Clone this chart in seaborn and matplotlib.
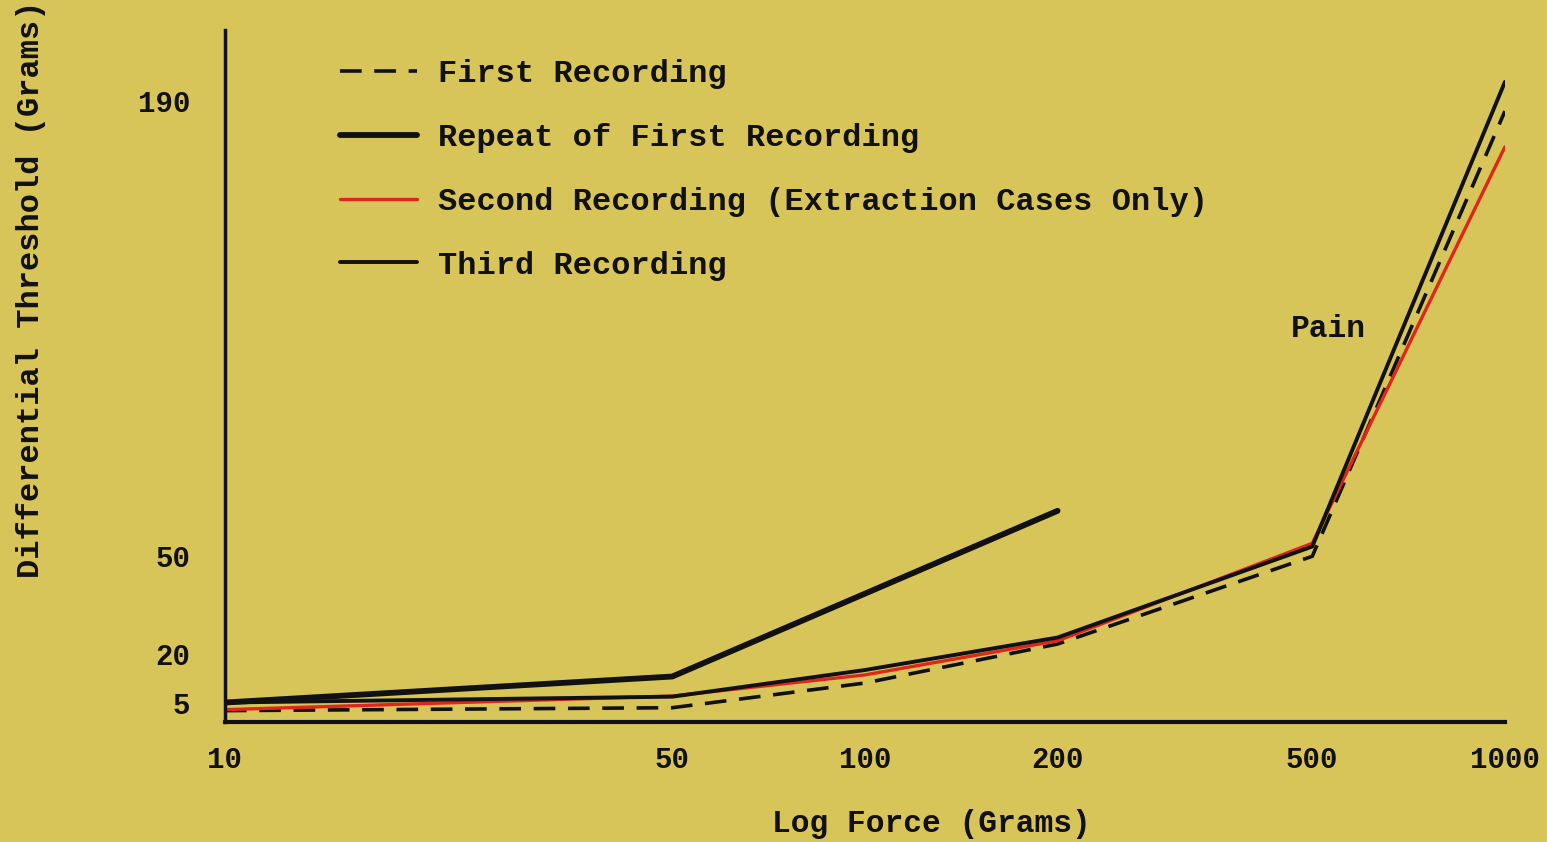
import pandas as pd
import matplotlib
matplotlib.use("Agg")
import matplotlib.pyplot as plt
import seaborn as sns

# values
force = [10, 50, 100, 200, 500, 1000]
first_rec = [2.5, 3.4, 11, 23, 50, 187]
second_rec = [2.8, 7, 13.5, 24, 54, 176]
third_rec = [5, 6.8, 15, 25, 53, 196]
repeat_force = [10, 50, 200]
repeat_rec = [5, 13, 64]

x_ticks = [10, 50, 100, 200, 500, 1000]
y_ticks = [5, 20, 50, 190]

paper = "#D8C55A"
ink = "#111111"
red = "#E0261C"

sns.set_theme(style="white")
plt.rcParams["font.family"] = ["Liberation Mono", "DejaVu Sans Mono"]
plt.rcParams["font.weight"] = "bold"

fig = plt.figure(figsize=(15.47, 8.42), dpi=100, facecolor=paper)
ax = fig.add_axes([0.1454, 0.1425, 0.8274, 0.822])
ax.set_facecolor(paper)

df_first = pd.DataFrame({"force": force, "val": first_rec})
df_second = pd.DataFrame({"force": force, "val": second_rec})
df_third = pd.DataFrame({"force": force, "val": third_rec})
df_repeat = pd.DataFrame({"force": repeat_force, "val": repeat_rec})

sns.lineplot(data=df_first, x="force", y="val", ax=ax, color=ink, lw=2.6,
             label="First Recording")
ax.lines[-1].set_dashes((6, 3.5))
sns.lineplot(data=df_repeat, x="force", y="val", ax=ax, color=ink, lw=4.2,
             label="Repeat of First Recording")
sns.lineplot(data=df_second, x="force", y="val", ax=ax, color=red, lw=2.4,
             label="Second Recording (Extraction Cases Only)")
sns.lineplot(data=df_third, x="force", y="val", ax=ax, color=ink, lw=2.8,
             label="Third Recording")
for ln in ax.lines:
    ln.set_solid_capstyle("round")

ax.set_xscale("log")
ax.set_xlim(10, 1000)
ax.set_ylim(-1, 212)
ax.set_xticks(x_ticks)
ax.set_xticklabels([str(v) for v in x_ticks])
ax.minorticks_off()
ax.set_yticks(y_ticks)
ax.set_yticklabels([str(v) for v in y_ticks])
ax.tick_params(axis="x", direction="out", length=7, width=2.5, colors=ink,
               labelsize=21, pad=10)
ax.tick_params(axis="y", direction="out", length=11, width=2, colors=ink,
               labelsize=21, pad=14)

for side in ["top", "right"]:
    ax.spines[side].set_visible(False)
ax.spines["left"].set_color(ink)
ax.spines["left"].set_linewidth(2.5)
ax.spines["bottom"].set_color(ink)
ax.spines["bottom"].set_linewidth(3)

ax.set_xlabel("Log Force (Grams)", fontsize=22.5, fontweight="bold", color=ink)
ax.set_ylabel("Differential Threshold (Grams)", fontsize=23, fontweight="bold", color=ink)
ax.xaxis.set_label_coords(0.552, -0.125)
ax.yaxis.set_label_coords(-0.14, 0.625)

ax.text(529, 120, "Pain", fontsize=22.5, fontweight="bold", color=ink,
        ha="center", va="center")

leg = ax.legend(loc="upper left", bbox_to_anchor=(0.09, 0.958), frameon=False,
                fontsize=23, handlelength=2.4, handletextpad=0.65,
                labelspacing=1.06, borderpad=0, borderaxespad=0)
for t in leg.get_texts():
    t.set_color(ink)
    t.set_fontweight("bold")

fig.savefig("out.png", dpi=100, facecolor=paper)
